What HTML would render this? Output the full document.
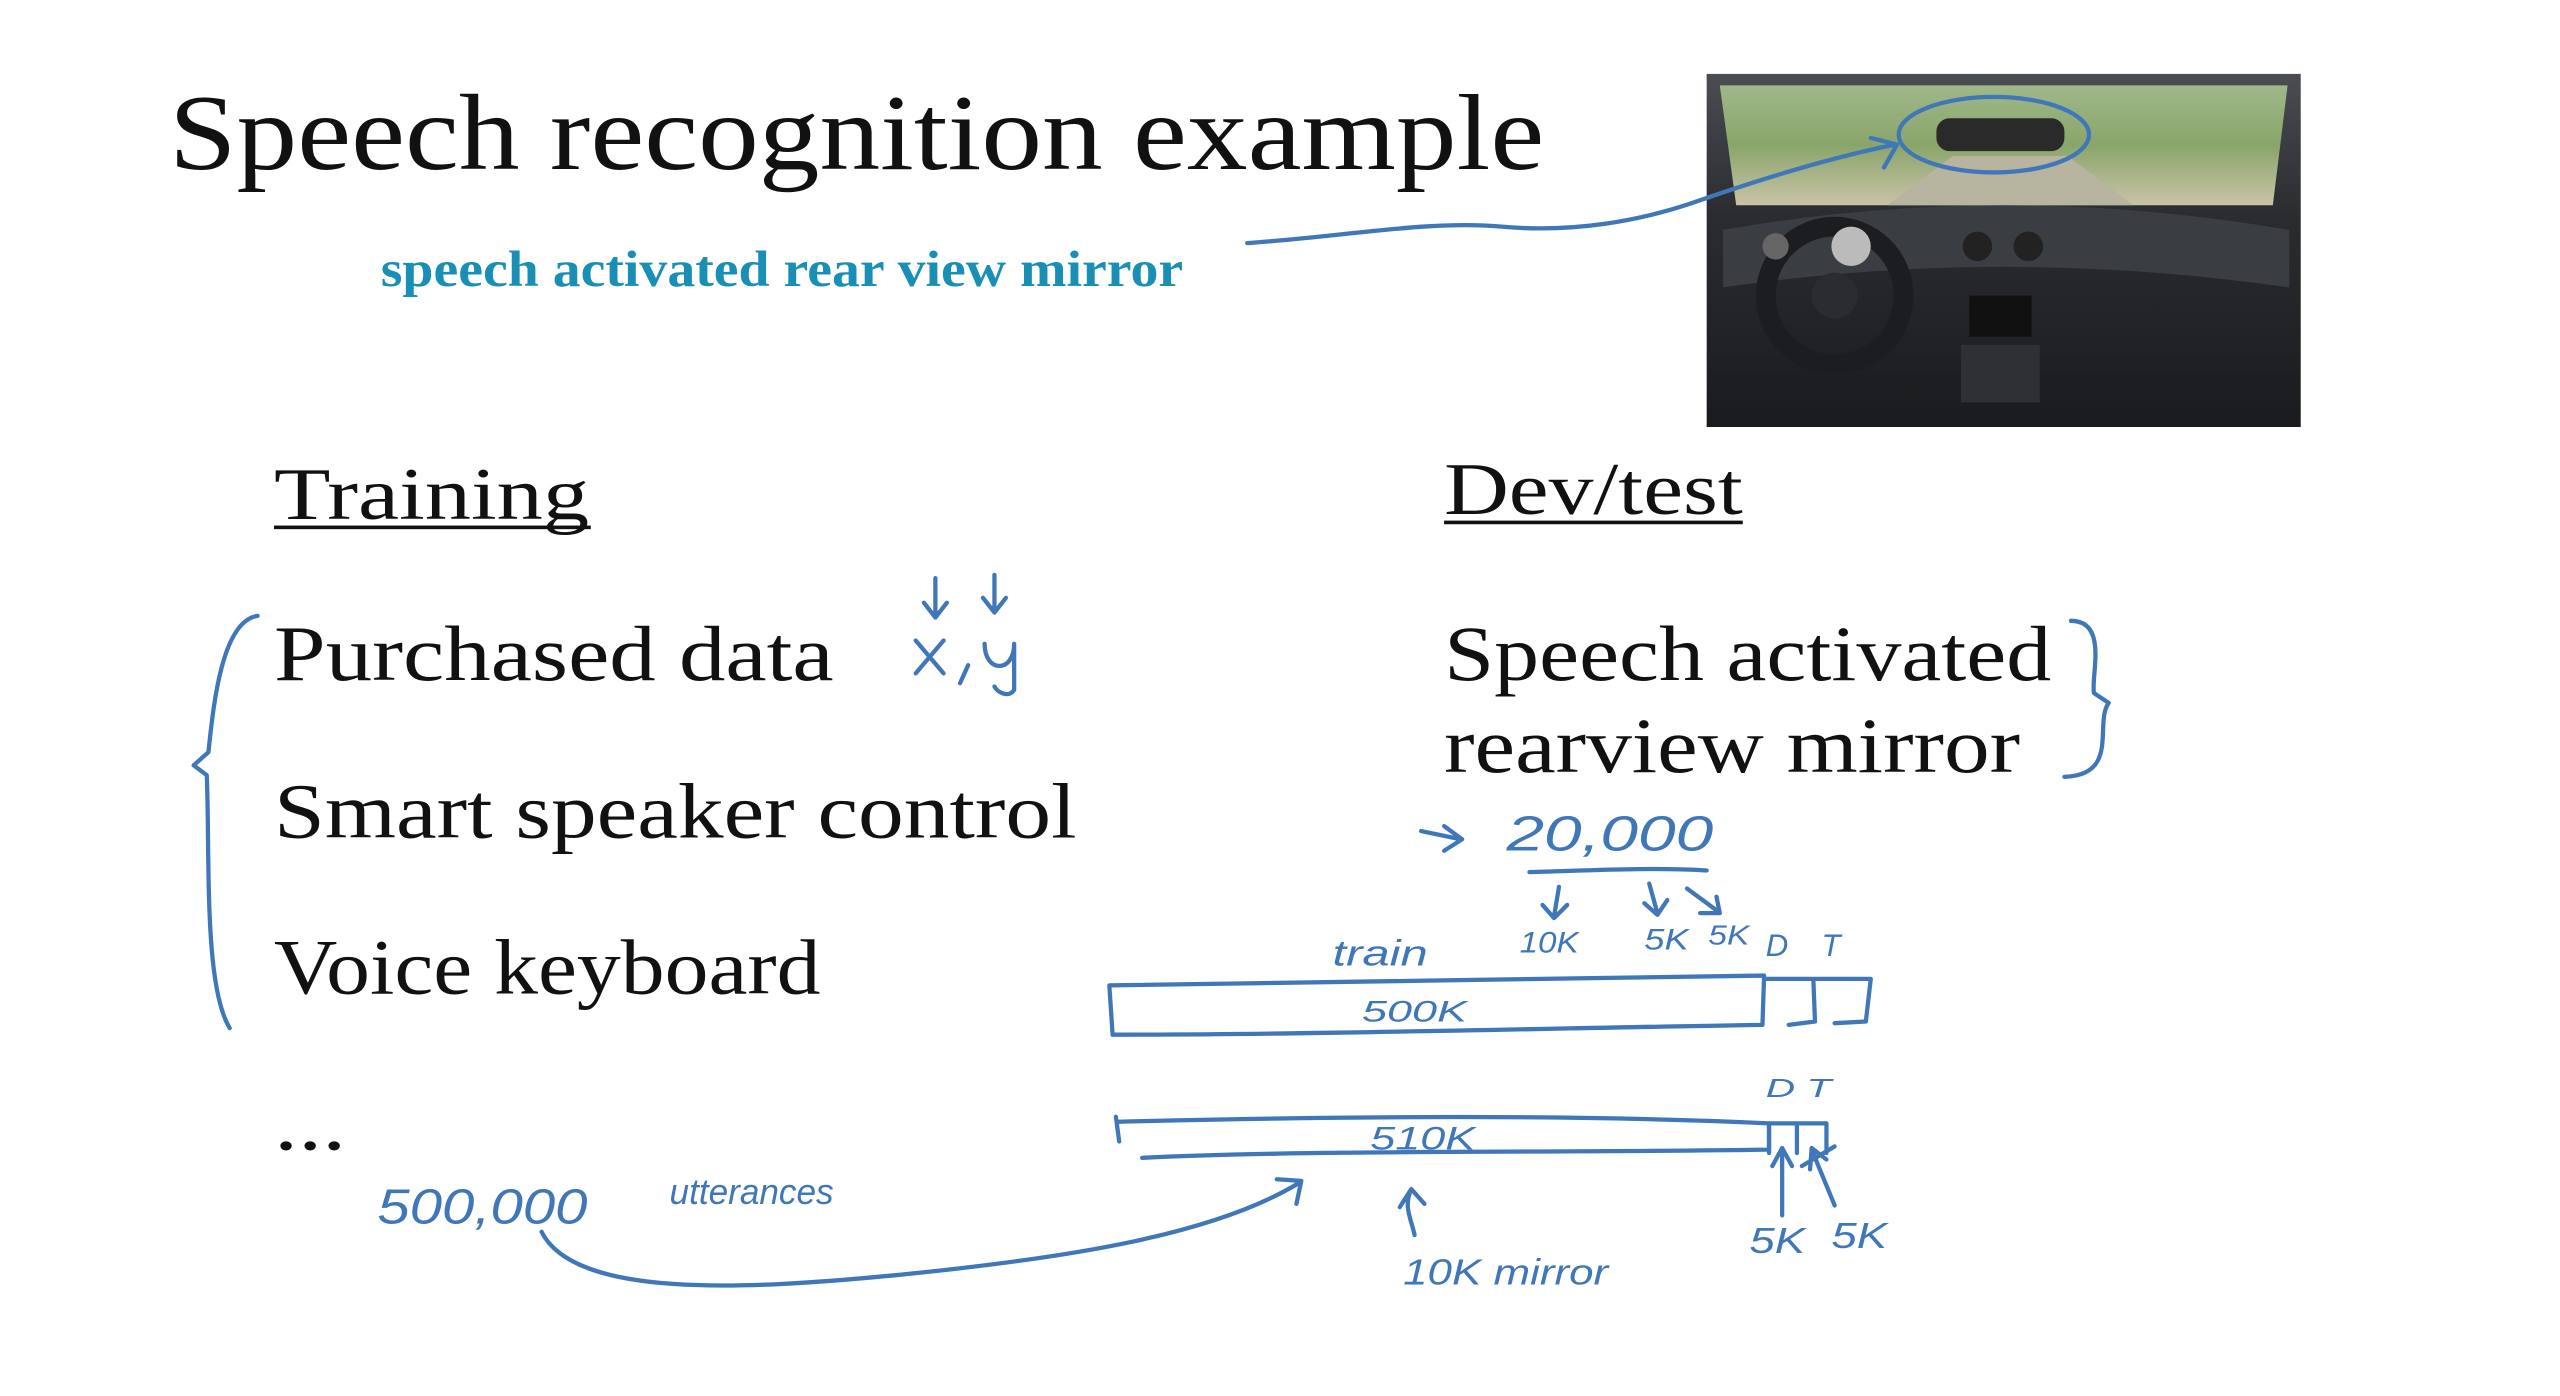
<!DOCTYPE html>
<html><head><meta charset="utf-8"><style>
html,body{margin:0;padding:0;background:#fff;}
svg{display:block;}
</style></head><body>
<svg width="2560" height="1396" viewBox="0 0 1560 850" preserveAspectRatio="none" xmlns="http://www.w3.org/2000/svg">
<defs>
<linearGradient id="sky" x1="0" y1="0" x2="0" y2="1"><stop offset="0" stop-color="#9fb88a"/><stop offset="0.5" stop-color="#8aa56a"/><stop offset="1" stop-color="#c9c3a8"/></linearGradient>
<linearGradient id="dash" x1="0" y1="0" x2="0" y2="1"><stop offset="0" stop-color="#4a4d52"/><stop offset="0.4" stop-color="#2a2c30"/><stop offset="1" stop-color="#1a1b1e"/></linearGradient>
</defs>
<rect width="1560" height="850" fill="#fff"/>
<!-- car image -->
<rect x="1040" y="45" width="362" height="215" fill="url(#dash)"/>
<polygon points="1048,52 1394,52 1385,125 1058,125" fill="url(#sky)"/>
<polygon points="1150,125 1300,125 1260,95 1190,95" fill="#b7b49f"/>
<rect x="1180" y="72" width="78" height="20" rx="8" fill="#2a2a2a"/>
<path d="M1050,140 Q1220,110 1395,140 L1395,175 Q1220,150 1050,175Z" fill="#3a3d42"/>
<circle cx="1118" cy="180" r="42" fill="none" stroke="#1c1d20" stroke-width="12"/>
<circle cx="1118" cy="180" r="14" fill="#2b2c30"/>
<circle cx="1205" cy="150" r="9" fill="#222"/><circle cx="1236" cy="150" r="9" fill="#222"/>
<circle cx="1082" cy="150" r="8" fill="#666"/><circle cx="1128" cy="150" r="12" fill="#bbb"/>
<rect x="1200" y="180" width="38" height="25" fill="#111"/>
<rect x="1195" y="210" width="48" height="35" fill="#2e3034"/>
<!-- Text -->
<g font-family="'Liberation Serif',serif" fill="#111">
<text x="103" y="103" font-size="66" textLength="838" lengthAdjust="spacingAndGlyphs">Speech recognition example</text>
<text x="167" y="316" font-size="45" textLength="192" lengthAdjust="spacingAndGlyphs">Training</text>
<rect x="167" y="320" width="193" height="2.2" fill="#111"/>
<text x="880" y="313" font-size="45" textLength="182" lengthAdjust="spacingAndGlyphs">Dev/test</text>
<rect x="880" y="317" width="182" height="2.2" fill="#111"/>
<text x="167" y="414" font-size="48" textLength="341" lengthAdjust="spacingAndGlyphs">Purchased data</text>
<text x="167" y="510" font-size="48" textLength="489" lengthAdjust="spacingAndGlyphs">Smart speaker control</text>
<text x="167" y="605" font-size="48" textLength="333" lengthAdjust="spacingAndGlyphs">Voice keyboard</text>
<text x="167" y="700" font-size="48" textLength="44" lengthAdjust="spacingAndGlyphs">...</text>
<text x="880" y="414" font-size="48" textLength="370" lengthAdjust="spacingAndGlyphs">Speech activated</text>
<text x="880" y="470" font-size="48" textLength="351" lengthAdjust="spacingAndGlyphs">rearview mirror</text>
</g>
<text x="232" y="174" font-family="'Liberation Serif',serif" font-weight="bold" font-size="31" fill="#1a8fb5" textLength="489" lengthAdjust="spacingAndGlyphs">speech activated rear view mirror</text>
<!-- handwriting -->
<g fill="none" stroke="#3f77b8" stroke-width="2.6" stroke-linecap="round" stroke-linejoin="round">
<path d="M760,148 C820,144 870,134 915,138 C960,142 1000,134 1030,124 C1070,110 1115,96 1155,88"/>
<path d="M1140,84 L1156,88 L1148,102"/>
<ellipse cx="1215" cy="82" rx="58" ry="23"/>
<path d="M157,375 C135,378 130,430 127,458 L118,466 L126,472 C128,520 124,600 140,626"/>
<path d="M1262,378 C1285,378 1274,412 1276,422 L1285,428 C1276,440 1292,472 1258,473"/>
<path d="M570,352 L570,375 M563,367 L570,376 L577,367"/>
<path d="M606,350 L606,372 M599,364 L606,373 L613,364"/>
<path d="M558,390 L575,410 M575,390 L558,410 M590,405 L585,416 M600,392 C600,410 618,410 618,392 L618,420 C615,425 608,422 606,418"/>
<path d="M866,506 L890,511 M880,503 L891,511 L880,518"/>
<path d="M932,531 C970,530 1005,528 1040,530"/>
<path d="M950,540 L947,558 M940,551 L947,559 L955,551"/>
<path d="M1005,538 L1010,556 M1002,550 L1010,557 L1016,548"/>
<path d="M1028,541 L1047,555 M1036,556 L1048,556 L1046,546"/>
<path d="M676,600 C800,598 950,596 1075,594 L1074,624 C950,626 800,630 678,630 Z"/>
<path d="M1075,596 L1105,596 L1106,622 L1090,624 M1105,596 L1140,596 L1137,622 L1118,623"/>
<path d="M680,680 L682,695 M682,683 C800,680 950,678 1078,684 L1078,700 C950,702 800,700 696,705"/>
<path d="M1078,684 L1078,702 M1095,684 L1095,702 M1113,684 L1113,702 M1078,684 L1113,684"/>
<path d="M1086,740 L1086,700 M1080,710 L1086,699 L1092,710"/>
<path d="M1118,734 L1104,700 M1103,712 L1104,699 L1113,706 M1098,710 L1118,698"/>
<path d="M862,752 C860,742 855,735 860,724 M853,735 L860,724 L868,733"/>
<path d="M330,750 C350,790 450,786 550,776 C650,766 740,752 792,720 M778,718 L793,719 L790,733"/>
</g>
<g font-family="'Liberation Sans',sans-serif" fill="#3f77b8" font-size="24" font-style="italic">
<text x="918" y="518" font-size="30" textLength="126" lengthAdjust="spacingAndGlyphs">20,000</text>
<text x="926" y="580" font-size="18" textLength="36" lengthAdjust="spacingAndGlyphs">10K</text>
<text x="1002" y="578" font-size="18" textLength="27" lengthAdjust="spacingAndGlyphs">5K</text>
<text x="1041" y="575" font-size="17" textLength="25" lengthAdjust="spacingAndGlyphs">5K</text>
<text x="1076" y="582" font-size="19">D</text>
<text x="1110" y="582" font-size="19">T</text>
<text x="812" y="588" font-size="22" textLength="58" lengthAdjust="spacingAndGlyphs">train</text>
<text x="830" y="622" font-size="18" textLength="64" lengthAdjust="spacingAndGlyphs">500K</text>
<text x="835" y="700" font-size="20" textLength="64" lengthAdjust="spacingAndGlyphs">510K</text>
<text x="1076" y="668" font-size="16" textLength="40" lengthAdjust="spacingAndGlyphs">D T</text>
<text x="1066" y="763" font-size="22" textLength="34" lengthAdjust="spacingAndGlyphs">5K</text>
<text x="1116" y="760" font-size="22" textLength="34" lengthAdjust="spacingAndGlyphs">5K</text>
<text x="855" y="782" font-size="22" textLength="125" lengthAdjust="spacingAndGlyphs">10K mirror</text>
<text x="230" y="745" font-size="30" textLength="128" lengthAdjust="spacingAndGlyphs">500,000</text>
<text x="408" y="733" font-size="22" textLength="100" lengthAdjust="spacingAndGlyphs">utterances</text>
</g>
</svg>
</body></html>
